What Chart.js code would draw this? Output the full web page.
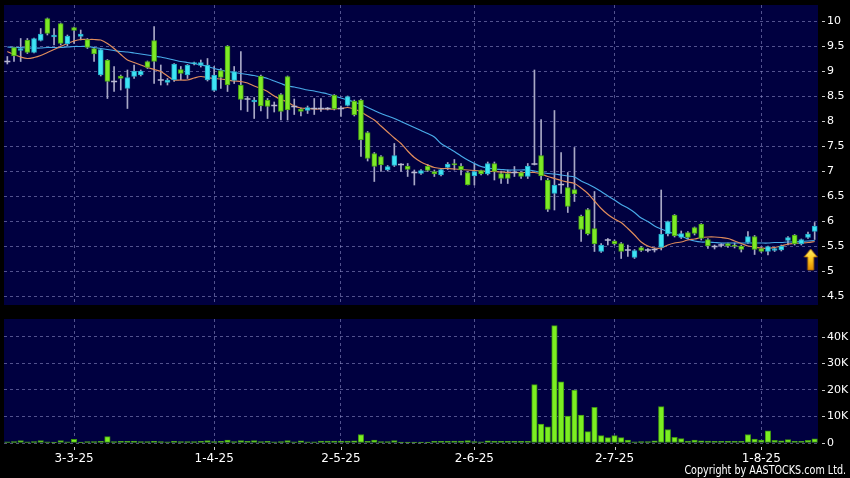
<!DOCTYPE html>
<html><head><meta charset="utf-8">
<script src="https://cdn.jsdelivr.net/npm/chart.js@4.4.1/dist/chart.umd.min.js"></script>
<style>
html,body{margin:0;padding:0;background:#000;}
body{width:850px;height:478px;position:relative;overflow:hidden;}
canvas{position:absolute;left:0;}
#c1{top:0}
#c2{top:310px}
#copy{position:absolute;right:4px;top:463px;color:#fff;font-family:"DejaVu Sans",sans-serif;font-size:12px;line-height:14px;white-space:nowrap;transform:scaleX(0.8);transform-origin:100% 0}
</style></head><body>
<canvas id="c1" width="850" height="310"></canvas>
<canvas id="c2" width="850" height="168"></canvas>
<div id="copy">Copyright by AASTOCKS.com Ltd.</div>
<script>
const dates = [
'17-2-25','18-2-25','19-2-25','20-2-25','21-2-25','24-2-25','25-2-25','26-2-25','27-2-25','28-2-25',
'3-3-25','4-3-25','5-3-25','6-3-25','7-3-25','10-3-25','11-3-25','12-3-25','13-3-25','14-3-25',
'17-3-25','18-3-25','19-3-25','20-3-25','21-3-25','24-3-25','25-3-25','26-3-25','27-3-25','28-3-25','31-3-25',
'1-4-25','2-4-25','3-4-25','7-4-25','8-4-25','9-4-25','10-4-25','11-4-25','14-4-25','15-4-25',
'16-4-25','17-4-25','22-4-25','23-4-25','24-4-25','25-4-25','28-4-25','29-4-25','30-4-25',
'2-5-25','6-5-25','7-5-25','8-5-25','9-5-25','12-5-25','13-5-25','14-5-25','15-5-25','16-5-25',
'19-5-25','20-5-25','21-5-25','22-5-25','23-5-25','26-5-25','27-5-25','28-5-25','29-5-25','30-5-25',
'2-6-25','3-6-25','4-6-25','5-6-25','6-6-25','9-6-25','10-6-25','11-6-25','12-6-25','13-6-25',
'16-6-25','17-6-25','18-6-25','19-6-25','20-6-25','23-6-25','24-6-25','25-6-25','26-6-25','27-6-25','30-6-25',
'2-7-25','3-7-25','4-7-25','7-7-25','8-7-25','9-7-25','10-7-25','11-7-25','14-7-25','15-7-25',
'16-7-25','17-7-25','18-7-25','21-7-25','22-7-25','23-7-25','24-7-25','25-7-25','28-7-25','29-7-25','30-7-25','31-7-25',
'1-8-25','4-8-25','5-8-25','6-8-25','7-8-25','8-8-25','11-8-25','12-8-25','13-8-25'];

const tickLabels = ['3-3-25','1-4-25','2-5-25','2-6-25','2-7-25','1-8-25'];
const priceTicks = [4.5,5,5.5,6,6.5,7,7.5,8,8.5,9,9.5,10];
const volumeTicks = [0,10,20,30,40];

const open = [
9.19,9.47,9.41,9.62,9.37,9.61,10.05,9.68,9.95,9.54,
9.87,9.69,9.63,9.45,8.92,9.22,8.79,8.90,8.65,8.89,
8.92,9.19,9.61,8.82,8.77,8.82,9.03,8.92,9.14,9.11,
8.82,8.61,9.01,9.50,8.81,8.72,8.44,8.38,8.90,8.42,
8.31,8.53,8.89,8.29,8.24,8.21,8.25,8.25,8.25,8.52,
8.25,8.31,8.40,8.42,7.77,7.35,7.29,7.02,7.11,7.13,
7.10,6.97,6.95,7.10,6.99,6.92,7.07,7.15,7.10,6.97,
6.90,7.01,6.94,7.15,6.95,6.95,6.97,6.97,6.89,7.14,
7.31,6.82,6.55,6.73,6.67,6.63,6.10,6.23,5.85,5.39,
5.62,5.60,5.55,5.42,5.27,5.47,5.42,5.43,5.47,5.74,
6.12,5.67,5.77,5.87,5.94,5.63,5.49,5.52,5.55,5.52,
5.50,5.57,5.69,5.45,5.39,5.41,5.42,5.61,5.72,5.54,
5.67,5.79];
const high = [
9.29,9.48,9.65,9.65,9.66,9.85,10.06,9.85,9.96,9.72,
9.88,9.82,9.65,9.46,9.44,9.23,9.09,8.92,9.02,9.12,
9.02,9.20,9.89,9.12,8.85,9.15,9.09,9.13,9.18,9.22,
9.25,9.09,9.05,9.51,9.09,9.39,8.49,8.47,8.92,8.45,
8.38,8.55,8.90,8.44,8.26,8.30,8.45,8.45,8.27,8.53,
8.30,8.50,8.42,8.44,7.79,7.37,7.31,7.11,7.55,7.15,
7.15,7.02,7.03,7.13,7.02,7.05,7.17,7.23,7.15,6.99,
7.15,7.02,7.18,7.18,7.00,7.02,7.09,6.99,7.15,9.02,
8.03,6.85,8.21,7.37,6.97,7.47,6.12,6.25,6.59,5.55,
5.65,5.62,5.57,5.52,5.43,5.49,5.45,5.46,6.62,6.00,
6.13,5.80,5.79,5.88,5.95,5.65,5.52,5.55,5.56,5.56,
5.52,5.79,5.71,5.47,5.50,5.47,5.52,5.69,5.73,5.64,
5.78,5.97];
const low = [
9.14,9.19,9.19,9.35,9.36,9.60,9.72,9.52,9.52,9.50,
9.55,9.62,9.45,9.19,8.90,8.45,8.59,8.62,8.25,8.85,
8.90,9.05,8.75,8.72,8.72,8.79,8.82,8.85,9.12,9.08,
8.80,8.59,8.65,8.59,8.75,8.22,8.19,8.05,8.20,8.05,
8.18,8.02,8.02,8.13,8.10,8.15,8.13,8.19,8.22,8.22,
8.09,8.30,8.10,7.29,7.20,6.79,6.99,7.00,7.09,6.99,
6.89,6.72,6.93,6.99,6.89,6.90,7.03,7.02,6.92,6.72,
6.72,6.92,6.92,6.82,6.75,6.75,6.89,6.85,6.85,7.12,
6.82,6.19,6.22,6.55,6.17,6.39,5.59,5.72,5.39,5.37,
5.52,5.52,5.25,5.29,5.25,5.39,5.38,5.38,5.42,5.70,
5.68,5.65,5.64,5.72,5.62,5.45,5.44,5.48,5.47,5.46,
5.38,5.55,5.33,5.37,5.32,5.39,5.40,5.52,5.52,5.52,
5.65,5.63];
const close = [
9.19,9.30,9.45,9.37,9.65,9.74,9.75,9.72,9.55,9.70,
9.81,9.74,9.47,9.34,9.43,8.79,8.79,8.85,8.87,9.00,
9.00,9.07,9.19,8.82,8.82,9.14,8.95,9.12,9.17,9.17,
9.12,8.92,8.87,8.72,8.99,8.43,8.44,8.42,8.30,8.29,
8.31,8.19,8.22,8.29,8.19,8.27,8.25,8.25,8.25,8.24,
8.25,8.49,8.12,7.62,7.25,7.09,7.12,7.09,7.31,7.13,
7.03,6.97,7.01,7.01,6.94,7.03,7.14,7.12,7.02,6.72,
6.99,6.94,7.15,6.99,6.85,6.85,6.97,6.89,7.10,7.14,
6.90,6.23,6.72,6.73,6.29,6.54,5.83,5.74,5.54,5.52,
5.62,5.54,5.39,5.42,5.41,5.41,5.42,5.43,5.74,5.99,
5.70,5.75,5.67,5.75,5.65,5.50,5.49,5.52,5.50,5.49,
5.43,5.69,5.43,5.39,5.49,5.45,5.50,5.67,5.54,5.63,
5.74,5.90];
const ma10 = [
9.39,9.33,9.28,9.25,9.27,9.31,9.37,9.43,9.49,9.55,
9.60,9.63,9.63,9.63,9.62,9.55,9.45,9.33,9.22,9.17,
9.12,9.07,9.03,8.99,8.90,8.82,8.82,8.82,8.86,8.89,
8.87,8.85,8.84,8.82,8.80,8.79,8.76,8.70,8.65,8.59,
8.50,8.43,8.38,8.30,8.26,8.25,8.24,8.24,8.24,8.24,
8.25,8.27,8.24,8.18,8.10,8.02,7.90,7.78,7.66,7.55,
7.40,7.27,7.18,7.12,7.07,7.05,7.05,7.04,7.03,7.02,
7.01,7.00,6.99,6.99,6.98,6.97,6.97,6.97,6.97,6.97,
6.94,6.89,6.85,6.81,6.78,6.75,6.66,6.55,6.40,6.25,
6.13,6.04,5.97,5.85,5.72,5.58,5.50,5.46,5.46,5.52,
5.56,5.58,5.62,5.64,5.67,5.68,5.68,5.67,5.65,5.60,
5.55,5.50,5.48,5.46,5.45,5.47,5.50,5.54,5.55,5.56,
5.57,5.59];
const ma20 = [
9.48,9.47,9.47,9.46,9.46,9.46,9.47,9.47,9.47,9.48,
9.49,9.49,9.49,9.47,9.45,9.43,9.41,9.39,9.38,9.36,
9.34,9.32,9.30,9.28,9.25,9.22,9.19,9.17,9.15,9.12,
9.09,9.05,9.02,8.99,8.97,8.95,8.93,8.91,8.88,8.85,
8.80,8.75,8.70,8.68,8.65,8.62,8.60,8.57,8.54,8.50,
8.46,8.42,8.38,8.33,8.27,8.21,8.15,8.10,8.05,7.99,
7.93,7.87,7.81,7.75,7.68,7.55,7.47,7.39,7.30,7.22,
7.15,7.09,7.06,7.04,7.03,7.02,7.02,7.02,7.02,7.00,
6.97,6.95,6.94,6.92,6.90,6.88,6.80,6.74,6.67,6.59,
6.50,6.42,6.33,6.26,6.17,6.06,5.99,5.90,5.84,5.79,
5.74,5.70,5.64,5.60,5.58,5.58,5.57,5.56,5.56,5.56,
5.56,5.56,5.56,5.56,5.56,5.57,5.57,5.58,5.58,5.59,
5.60,5.61];
const volumeK = [
0.4,0.5,0.9,0.4,0.5,0.9,0.4,0.3,0.9,0.4,
1.4,0.3,0.5,0.5,0.6,2.4,0.5,0.6,0.6,0.6,
0.5,0.5,0.6,0.5,0.4,0.6,0.5,0.5,0.5,0.6,
0.9,0.5,0.6,1.1,0.5,0.9,0.6,0.9,0.5,0.6,
0.4,0.5,0.9,0.4,0.8,0.4,0.4,0.7,0.7,0.7,
0.7,0.7,0.8,3.2,0.6,1.1,0.5,0.5,0.9,0.3,
0.3,0.3,0.3,0.3,0.6,0.6,0.6,0.7,0.7,0.9,
0.5,0.4,0.8,0.6,0.6,0.6,0.6,0.6,0.6,22,
7.1,6.1,44.2,23,10.1,19.9,10.5,4.3,13.4,2.8,
2.0,2.8,2.0,1.1,0.4,0.5,0.5,0.8,13.7,5.1,
2.1,1.7,0.7,1.1,0.8,0.7,0.6,0.6,0.6,0.6,
0.6,3.2,1.5,1.1,4.6,1.0,0.8,1.3,0.6,0.6,
1.0,1.6];
const arrowDate = '13-8-25';
const arrowPrice = 5.24;

const NAVY = '#000040';
const GRID = 'rgba(150,150,205,0.55)';
const UP_FILL = '#3ee4f4', UP_LINE = '#22a6c4';
const DN_FILL = '#7eea26', DN_LINE = '#46a014';
const WICK = '#a8a8c6';
const isTickDate = i => tickLabels.includes(dates[i]);

const plotBg = {
  id: 'plotBg',
  beforeDraw(chart) {
    const {ctx, chartArea: a} = chart;
    ctx.save(); ctx.fillStyle = NAVY;
    ctx.fillRect(a.left, a.top, a.right - a.left, a.bottom - a.top);
    ctx.restore();
  }
};
const tickMarks = {
  id: 'tickMarks',
  afterDraw(chart, args, opts) {
    const {ctx, chartArea: a, scales} = chart;
    ctx.save(); ctx.strokeStyle = '#c8c8c8'; ctx.lineWidth = 1;
    ctx.beginPath();
    scales.y.ticks.forEach(t => {
      const y = Math.round(scales.y.getPixelForValue(t.value)) + 0.5;
      ctx.moveTo(a.right + 4, y); ctx.lineTo(a.right + 7, y);
    });
    if (opts.xMarks) {
      dates.forEach((d, i) => {
        if (!isTickDate(i)) return;
        const x = Math.round(scales.x.getPixelForValue(i)) + 0.5;
        ctx.moveTo(x, a.bottom + 4); ctx.lineTo(x, a.bottom + 7);
      });
    }
    ctx.stroke(); ctx.restore();
  }
};

function makeArrow() {
  const c = document.createElement('canvas'); c.width = 24; c.height = 24;
  const g = c.getContext('2d');
  const cx = 8;
  const grad = g.createLinearGradient(0, 2, 0, 23);
  grad.addColorStop(0, '#fff06a'); grad.addColorStop(0.5, '#ffc820'); grad.addColorStop(1, '#e08a00');
  g.fillStyle = grad;
  g.beginPath();
  g.moveTo(cx, 2); g.lineTo(cx + 6.5, 10); g.lineTo(cx + 3, 10); g.lineTo(cx + 3, 23);
  g.lineTo(cx - 3, 23); g.lineTo(cx - 3, 10); g.lineTo(cx - 6.5, 10); g.closePath();
  g.fill();
  g.strokeStyle = '#b06a00'; g.lineWidth = 0.8; g.stroke();
  return c;
}

const xGridColor = ctx => isTickDate(ctx.index) ? GRID : 'rgba(0,0,0,0)';
const axisFont = {family: 'DejaVu Sans', size: 11};
const zeroPadX = s => { s.paddingLeft = 0; s.paddingRight = 0; };
const zeroPadY = s => { s.paddingTop = 0; s.paddingBottom = 0; };

new Chart(document.getElementById('c1'), {
  type: 'bar',
  data: {
    labels: dates,
    datasets: [
      {type: 'line', label: 'arrow', data: dates.map(d => d === arrowDate ? arrowPrice : null),
       pointStyle: makeArrow(), pointRadius: 12, showLine: false, order: 0},
      {type: 'line', label: 'doji', data: open.map((o, i) => o === close[i] ? o : null),
       pointStyle: 'line', pointRadius: 3, pointBorderColor: '#b8b8d0', pointBorderWidth: 1.6,
       showLine: false, order: 0},
      {type: 'bar', label: 'body', data: open.map((o, i) => o === close[i] ? null : [o, close[i]]),
       backgroundColor: c => close[c.dataIndex] > open[c.dataIndex] ? UP_FILL : DN_FILL,
       borderColor: c => close[c.dataIndex] > open[c.dataIndex] ? UP_LINE : DN_LINE,
       borderWidth: 1, borderSkipped: false, barThickness: 5, grouped: false, order: 1},
      {type: 'line', label: 'MA10', data: ma10, borderColor: '#e08c5c', borderWidth: 1.2,
       pointRadius: 0, tension: 0.3, order: 2},
      {type: 'line', label: 'MA20', data: ma20, borderColor: '#48aae8', borderWidth: 1.2,
       pointRadius: 0, tension: 0.3, order: 2},
      {type: 'bar', label: 'wick', data: low.map((l, i) => [l, high[i]]),
       backgroundColor: WICK, barThickness: 1, grouped: false, order: 3}
    ]
  },
  options: {
    responsive: false, animation: false,
    layout: {autoPadding: false, padding: {top: 5, left: 4, right: 0, bottom: 5}},
    plugins: {legend: {display: false}, tooltip: {enabled: false}, tickMarks: {xMarks: false}},
    scales: {
      x: {
        type: 'category', offset: true,
        grid: {offset: false, drawTicks: false, color: xGridColor},
        border: {display: false, dash: [3, 3]},
        ticks: {display: false, autoSkip: false},
        afterFit: s => { s.height = 0; zeroPadX(s); }
      },
      y: {
        position: 'right', min: 4.32, max: 10.32,
        afterBuildTicks: s => { s.ticks = priceTicks.map(v => ({value: v})); },
        grid: {color: GRID, drawTicks: false},
        border: {display: false, dash: [3, 3]},
        ticks: {color: '#ffffff', font: axisFont, padding: 9, callback: v => String(v)},
        afterFit: s => { s.width = 32; zeroPadY(s); }
      }
    }
  },
  plugins: [plotBg, tickMarks]
});

new Chart(document.getElementById('c2'), {
  type: 'bar',
  data: {
    labels: dates,
    datasets: [
      {label: 'Volume', data: volumeK, backgroundColor: '#7cee22', borderColor: '#3e9612',
       borderWidth: 1, borderSkipped: false, barThickness: 5.5}
    ]
  },
  options: {
    responsive: false, animation: false,
    layout: {autoPadding: false, padding: {top: 9, left: 4, right: 0, bottom: 0}},
    plugins: {legend: {display: false}, tooltip: {enabled: false}, tickMarks: {xMarks: true}},
    scales: {
      x: {
        type: 'category', offset: true,
        grid: {offset: false, drawTicks: false, color: xGridColor},
        border: {display: false, dash: [3, 3]},
        ticks: {autoSkip: false, maxRotation: 0, minRotation: 0, color: '#ffffff',
                font: {family: 'DejaVu Sans', size: 12}, padding: 9,
                callback: (v, i) => isTickDate(i) ? dates[i] : ''},
        afterFit: s => { s.height = 35; zeroPadX(s); }
      },
      y: {
        position: 'right', min: 0, max: 46.7,
        afterBuildTicks: s => { s.ticks = volumeTicks.map(v => ({value: v})); },
        grid: {color: GRID, drawTicks: false},
        border: {display: false, dash: [3, 3]},
        ticks: {color: '#ffffff', font: axisFont, padding: 9, callback: v => v === 0 ? '0' : v + 'K'},
        afterFit: s => { s.width = 32; zeroPadY(s); }
      }
    }
  },
  plugins: [plotBg, tickMarks]
});
</script>
</body></html>
